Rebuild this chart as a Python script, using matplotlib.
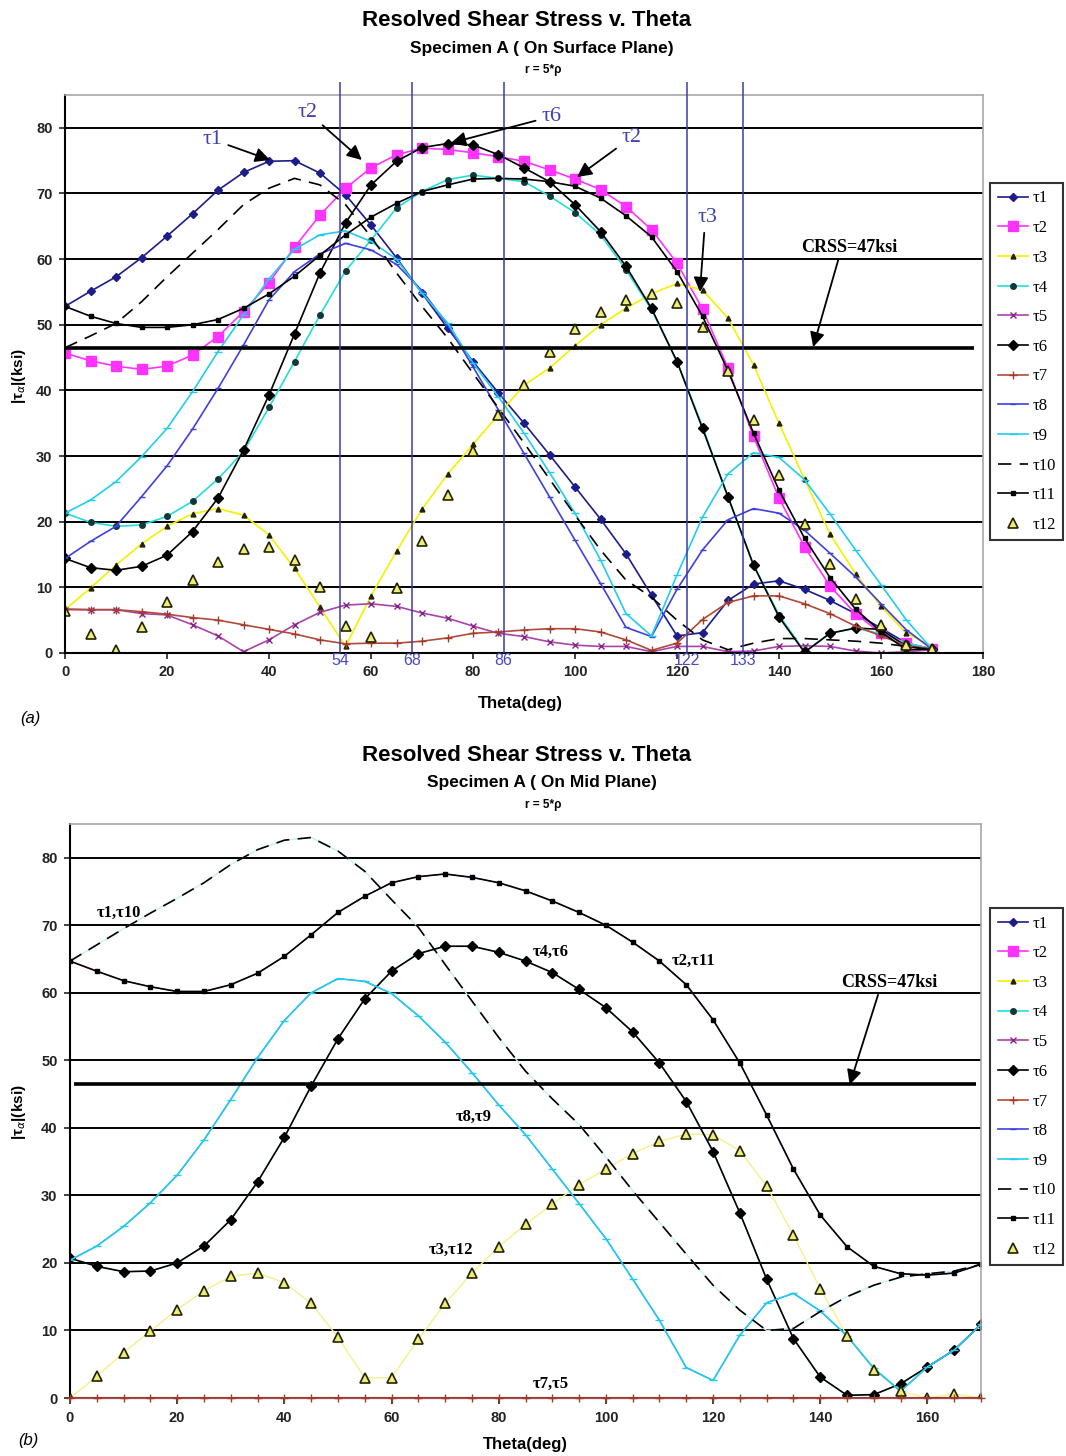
import matplotlib
matplotlib.use("Agg")
import matplotlib.pyplot as plt
from matplotlib.lines import Line2D

# Theta (deg), same categories for both panels
theta = [0, 5, 10, 15, 20, 25, 30, 35, 40, 45, 50, 55, 60, 65, 70, 75, 80, 85,
         90, 95, 100, 105, 110, 115, 120, 125, 130, 135, 140, 145, 150, 155, 160, 165, 170]

# (a) surface plane, |tau| in ksi
tau1_surf = [52.8, 55.1, 57.3, 60.2, 63.5, 66.9, 70.5, 73.2, 74.9, 75.0, 73.1, 69.8, 65.2, 60.2, 54.8, 49.5, 44.4, 39.6,
             35.0, 30.2, 25.3, 20.4, 15.1, 8.8, 2.6, 3.1, 8.0, 10.5, 11.0, 9.7, 8.0, 6.0, 3.8, 1.5, 0.6]
tau2_surf = [45.7, 44.5, 43.7, 43.2, 43.7, 45.4, 48.2, 52.0, 56.4, 61.8, 66.7, 70.8, 73.9, 75.9, 76.9, 76.7, 76.2, 75.6,
             74.9, 73.6, 72.2, 70.6, 68.0, 64.5, 59.4, 52.4, 43.4, 33.0, 23.6, 16.2, 10.2, 6.0, 3.0, 1.5, 0.6]
tau3_surf = [6.6, 9.9, 13.4, 16.6, 19.3, 21.2, 22.0, 21.0, 18.0, 12.9, 7.0, 1.0, 8.7, 15.5, 21.9, 27.2, 31.8, 36.3,
             40.8, 43.4, 46.8, 50.0, 52.5, 54.7, 56.3, 55.3, 51.0, 43.9, 35.0, 26.5, 18.1, 12.1, 7.1, 3.0, 1.0]
tau4_surf = [21.3, 19.9, 19.3, 19.5, 20.8, 23.1, 26.5, 30.7, 37.4, 44.4, 51.5, 58.2, 62.9, 67.8, 70.3, 72.1, 72.8, 72.3,
             71.8, 69.6, 67.1, 63.7, 58.4, 52.3, 44.4, 34.5, 23.7, 13.4, 5.8, 0.2, 3.0, 3.8, 2.9, 1.5, 0.6]
tau5_surf = [6.6, 6.6, 6.6, 6.0, 5.8, 4.3, 2.6, 0.2, 2.0, 4.3, 6.2, 7.3, 7.5, 7.1, 6.1, 5.3, 4.1, 3.0,
             2.5, 1.7, 1.2, 1.0, 1.0, 0.2, 1.0, 1.0, 0.2, 0.3, 1.0, 1.1, 1.0, 0.3, 0.0, 0.2, 0.5]
tau6_surf = [14.4, 13.0, 12.6, 13.2, 14.9, 18.5, 23.6, 30.9, 39.3, 48.6, 57.9, 65.5, 71.3, 74.9, 77.0, 77.6, 77.4, 75.9,
             73.9, 71.8, 68.3, 64.2, 58.9, 52.5, 44.4, 34.2, 23.8, 13.4, 5.5, 0.1, 3.0, 3.8, 3.6, 1.0, 0.6]
tau7_surf = [6.7, 6.6, 6.6, 6.3, 5.9, 5.4, 5.0, 4.3, 3.6, 2.9, 2.0, 1.4, 1.5, 1.5, 1.8, 2.3, 3.0, 3.2,
             3.5, 3.7, 3.7, 3.2, 2.0, 0.4, 1.5, 5.1, 7.7, 8.7, 8.7, 7.5, 6.0, 4.1, 2.6, 1.1, 0.6]
tau8_surf = [14.4, 17.0, 19.3, 23.8, 28.5, 34.1, 40.3, 46.9, 53.8, 58.1, 60.8, 62.4, 61.4, 59.2, 55.2, 50.0, 43.6, 37.0,
             30.4, 23.8, 17.2, 10.6, 3.9, 2.5, 9.7, 15.7, 20.3, 22.0, 21.3, 18.7, 15.2, 11.6, 7.5, 3.5, 0.6]
tau9_surf = [21.3, 23.3, 26.1, 29.9, 34.2, 39.8, 45.9, 51.5, 57.0, 61.5, 63.7, 64.3, 62.7, 60.0, 54.8, 50.3, 44.2, 39.0,
             33.5, 27.5, 21.3, 14.2, 6.0, 2.6, 11.9, 20.7, 27.3, 30.5, 29.8, 26.4, 21.2, 15.7, 10.4, 5.0, 0.6]
tau10_surf = [46.5, 48.3, 50.2, 53.5, 57.3, 60.9, 64.5, 68.3, 70.8, 72.3, 71.3, 68.3, 63.4, 57.9, 52.8, 48.0, 42.6, 37.3,
              32.0, 26.5, 21.0, 15.7, 11.1, 8.5, 5.0, 2.0, 0.5, 1.5, 2.2, 2.2, 2.0, 1.8, 1.5, 1.0, 0.5]
tau11_surf = [52.8, 51.3, 50.2, 49.6, 49.6, 50.0, 50.8, 52.5, 54.7, 57.4, 60.6, 63.7, 66.4, 68.5, 70.3, 71.3, 72.2, 72.3,
              72.2, 71.8, 71.1, 69.3, 66.6, 63.4, 58.1, 51.3, 43.0, 33.5, 24.8, 17.5, 11.5, 6.7, 3.2, 0.5, 0.6]
tau12_surf = [6.4, 2.9, 0.5, 4.0, 7.7, 11.1, 13.9, 15.8, 16.2, 14.1, 10.1, 4.1, 2.4, 9.9, 17.1, 24.1, 30.7, 36.3,
              40.8, 45.8, 49.3, 52.0, 53.8, 54.7, 53.3, 49.6, 43.0, 35.5, 27.1, 19.7, 13.6, 8.2, 4.3, 1.2, 0.6]

# (b) mid plane, pairs of systems coincide
tau1_mid = [64.7, 67.1, 69.5, 71.8, 74.0, 76.3, 79.0, 81.2, 82.6, 83.0, 81.0, 78.0, 73.8, 69.7, 64.2, 58.8, 53.4, 48.4,
            44.3, 40.5, 35.7, 30.7, 26.0, 21.3, 16.7, 13.0, 10.0, 10.3, 12.8, 15.0, 16.7, 17.9, 18.4, 18.8, 19.8]
tau2_mid = [64.7, 63.2, 61.8, 60.9, 60.2, 60.2, 61.2, 62.9, 65.4, 68.6, 71.9, 74.3, 76.3, 77.2, 77.6, 77.1, 76.3, 75.1,
            73.6, 71.9, 70.0, 67.5, 64.7, 61.2, 56.0, 49.6, 41.9, 33.9, 27.1, 22.4, 19.5, 18.4, 18.2, 18.5, 19.8]
tau3_mid = [0.0, 3.2, 6.7, 9.9, 13.1, 15.9, 18.0, 18.5, 17.1, 14.0, 9.0, 3.0, 3.0, 8.7, 14.0, 18.5, 22.4, 25.7,
            28.7, 31.6, 33.9, 36.2, 38.0, 39.1, 39.0, 36.6, 31.4, 24.1, 16.2, 9.2, 4.2, 1.0, 0.0, 0.6, 0.0]
tau4_mid = [20.7, 19.5, 18.7, 18.8, 20.0, 22.5, 26.4, 32.0, 38.6, 46.2, 53.2, 59.1, 63.2, 65.8, 66.9, 66.9, 66.0, 64.7,
            63.0, 60.5, 57.8, 54.2, 49.6, 43.9, 36.5, 27.4, 17.6, 8.8, 3.1, 0.4, 0.5, 2.1, 4.6, 7.1, 10.9]
tau5_mid = [0.0] * 35
tau8_mid = [20.4, 22.5, 25.4, 28.9, 33.0, 38.2, 44.2, 50.4, 55.9, 60.0, 62.1, 61.7, 59.9, 56.6, 52.7, 48.2, 43.4, 39.0,
            33.9, 28.8, 23.6, 17.6, 11.5, 4.5, 2.6, 9.3, 14.1, 15.5, 12.9, 9.2, 4.4, 1.0, 4.6, 7.1, 10.9]
tau6_mid = tau4_mid
tau7_mid = tau5_mid
tau9_mid = tau8_mid
tau10_mid = tau1_mid
tau11_mid = tau2_mid
tau12_mid = tau3_mid

names = ["τ1", "τ2", "τ3", "τ4", "τ5", "τ6", "τ7", "τ8", "τ9", "τ10", "τ11", "τ12"]
surf = [tau1_surf, tau2_surf, tau3_surf, tau4_surf, tau5_surf, tau6_surf,
        tau7_surf, tau8_surf, tau9_surf, tau10_surf, tau11_surf, tau12_surf]
mid = [tau1_mid, tau2_mid, tau3_mid, tau4_mid, tau5_mid, tau6_mid,
       tau7_mid, tau8_mid, tau9_mid, tau10_mid, tau11_mid, tau12_mid]

crss = 46.5
marked_angles = [54, 68, 86, 122, 133]

styles = [
    dict(color="#1c1c8a", marker="D", ms=4, mfc="#1c1c8a", mec="#1c1c8a"),
    dict(color="#ff33ff", marker="s", ms=6.5, mfc="#ff33ff", mec="#ff33ff"),
    dict(color="#f4f000", marker="^", ms=3.5, mfc="#222200", mec="#222200"),
    dict(color="#22dddd", marker="o", ms=4, mfc="#103838", mec="#103838"),
    dict(color="#aa44aa", marker="x", ms=4.5, mec="#882288"),
    dict(color="black", marker="D", ms=5.5, mfc="black", mec="black"),
    dict(color="#b04a3a", marker="+", ms=5.5, mec="#a03a2a"),
    dict(color="#4040dd", marker="_", ms=5, mec="#4040dd"),
    dict(color="#22ccee", marker="_", ms=6, mec="#22ccee"),
    dict(color="black", ls=(0, (8, 5)), marker=None),
    dict(color="black", marker="s", ms=3.3, mfc="black", mec="black"),
    dict(color="#ffff66", ls="none", marker="^", ms=7, mfc="#eeee77", mec="#222200", mew=1.2),
]

# series hidden under their twin on the mid plane are drawn as bare thin lines
mid_override = {0: dict(color="#c8eef6", marker=None, lw=1.0),
                1: dict(marker=None, lw=0.8), 2: dict(color="#f6f08a", lw=1.0),
                3: dict(marker=None, lw=0.8), 4: dict(marker=None, lw=0.8),
                7: dict(marker=None, lw=0.8)}

plt.rcParams["font.family"] = ["Liberation Sans Narrow", "Liberation Sans", "DejaVu Sans"]
serif = ["Liberation Serif", "DejaVu Serif"]

fig = plt.figure(figsize=(10.66, 14.56), dpi=100)
W, H = 1066.0, 1456.0


def fx(px):
    return px / W


def fy(py):
    return 1 - py / H


ax_a = fig.add_axes([fx(65), fy(653), fx(983 - 65), (653 - 95) / H])
ax_b = fig.add_axes([fx(70), fy(1398), fx(981 - 70), (1398 - 824) / H])


def style_axes(ax, xmax, xticks):
    ax.set_xlim(0, xmax)
    ax.set_ylim(0, 85)
    ax.set_xticks(xticks)
    ax.set_yticks(range(0, 81, 10))
    ax.grid(axis="y", color="black", lw=1.4)
    ax.set_axisbelow(True)
    for s in ["top", "right"]:
        ax.spines[s].set_color("#a8a8a8")
        ax.spines[s].set_linewidth(1.2)
    for s in ["left", "bottom"]:
        ax.spines[s].set_color("black")
        ax.spines[s].set_linewidth(1.5)
    ax.tick_params(direction="out", length=4, width=1.2, labelsize=10.5, colors="#222222", pad=5)
    for lab in ax.get_xticklabels() + ax.get_yticklabels():
        lab.set_fontweight("bold")


def make_legend(ax, top_px):
    handles = [Line2D([], [], lw=1.2, **st) for st in styles]
    ax.legend(handles, names, loc="upper left", bbox_to_anchor=(fx(990), fy(top_px)),
              bbox_transform=fig.transFigure, prop=dict(family=serif, size=12),
              frameon=True, fancybox=False, edgecolor="black", handlelength=1.8,
              handletextpad=0.3, labelspacing=0.82, borderpad=0.45, borderaxespad=0)
    ax.get_legend().get_frame().set_linewidth(1.5)


arrow = dict(arrowstyle="-|>", color="black", lw=1.3, mutation_scale=22, shrinkA=2, shrinkB=0)

# ---------- (a) surface plane ----------
for i, vals in enumerate(surf):
    ax_a.plot(theta, vals, lw=1.2, zorder=2 + i * 0.01, **styles[i])
style_axes(ax_a, 180, range(0, 181, 20))
ax_a.hlines(crss, 0, 178.2, color="black", lw=2.6, zorder=5)
ax_a.vlines(marked_angles, 0, 87, colors="#3a3aa8", lw=1.1, clip_on=False, zorder=6)
for a in marked_angles:
    ax_a.text(a, -1.1, str(a), ha="center", va="center", color="#4a4ac0", fontsize=11.5,
              family=["Liberation Sans", "DejaVu Sans"])
blue = "#4040b0"
ax_a.annotate("τ1", xy=(40.2, 75.1), xytext=(29, 78.2), color=blue, fontsize=16, family=serif,
              ha="center", va="center", arrowprops=arrow, zorder=7)
ax_a.annotate("τ2", xy=(58.2, 75.1), xytext=(47.6, 82.4), color=blue, fontsize=16, family=serif,
              ha="center", va="center", arrowprops=arrow, zorder=7)
ax_a.annotate("τ6", xy=(75.7, 77.7), xytext=(95.3, 81.7), color=blue, fontsize=16, family=serif,
              ha="center", va="center", arrowprops=arrow, zorder=7)
ax_a.annotate("τ2", xy=(100.4, 72.5), xytext=(111, 78.5), color=blue, fontsize=16, family=serif,
              ha="center", va="center", arrowprops=arrow, zorder=7)
ax_a.annotate("τ3", xy=(124.5, 55), xytext=(126, 66.3), color=blue, fontsize=16, family=serif,
              ha="center", va="center", arrowprops=dict(arrow, relpos=(0.35, 0)), zorder=7)
ax_a.annotate("CRSS=47ksi", xy=(146.7, 46.6), xytext=(153.7, 61.7), fontsize=13, weight="bold",
              family=serif, ha="center", va="center", arrowprops=dict(arrow, relpos=(0.4, 0)), zorder=7,
              bbox=dict(boxstyle="square,pad=0.05", fc="white", ec="none"))
make_legend(ax_a, 183)

# ---------- (b) mid plane ----------
for i, vals in enumerate(mid):
    st = dict(styles[i])
    lw = 1.2
    if i in mid_override:
        ov = dict(mid_override[i])
        lw = ov.pop("lw")
        st.update(ov)
        if st.get("marker") is None:
            for k in ("ms", "mfc", "mec", "mew"):
                st.pop(k, None)
    # the zero-valued pair sits on the axis line, keep it above the spine
    on_axis = i in (4, 6)
    ax_b.plot(theta, vals, lw=lw, zorder=(4 if on_axis else 2) + i * 0.01, clip_on=not on_axis, **st)
style_axes(ax_b, 170, range(0, 161, 20))
ax_b.hlines(crss, 0.8, 169, color="black", lw=2.6, zorder=5)
lbl = dict(fontsize=12, weight="bold", family=serif, ha="center", va="center", zorder=7)
ax_b.text(9.1, 71.9, "τ1,τ10", **lbl)
ax_b.text(89.7, 66.1, "τ4,τ6", **lbl)
ax_b.text(116.4, 64.7, "τ2,τ11", **lbl)
ax_b.text(75.3, 41.7, "τ8,τ9", **lbl)
ax_b.text(71.1, 21.9, "τ3,τ12", **lbl)
ax_b.text(89.7, 2.1, "τ7,τ5", **lbl)
ax_b.annotate("CRSS=47ksi", xy=(145.5, 46.4), xytext=(152.8, 61.5), fontsize=13, weight="bold",
              family=serif, ha="center", va="center", arrowprops=dict(arrow, relpos=(0.4, 0)), zorder=7,
              bbox=dict(boxstyle="square,pad=0.05", fc="white", ec="none"))
make_legend(ax_b, 908)

# ---------- titles and axis labels ----------
for top, sub in [(0, "Specimen A ( On Surface Plane)"), (735, "Specimen A ( On Mid Plane)")]:
    fig.text(fx(527), fy(top + 20), "Resolved Shear Stress v. Theta", ha="center", va="center",
             fontsize=16, weight="bold")
    fig.text(fx(542), fy(top + 48), sub, ha="center", va="center", fontsize=12.5, weight="bold")
    fig.text(fx(543), fy(top + 70), "r = 5*ρ", ha="center", va="center", fontsize=8.5, weight="bold")

fig.text(fx(520), fy(703), "Theta(deg)", ha="center", va="center", fontsize=12, weight="bold")
fig.text(fx(525), fy(1445), "Theta(deg)", ha="center", va="center", fontsize=12, weight="bold")
fig.text(fx(19), fy(376), "|τ$_{\\alpha}$|(ksi)", rotation=90, ha="center", va="center",
         fontsize=11, weight="bold")
fig.text(fx(19), fy(1112), "|τ$_{\\alpha}$|(ksi)", rotation=90, ha="center", va="center",
         fontsize=11, weight="bold")
fig.text(fx(30), fy(718), "(a)", ha="center", va="center", fontsize=12, style="italic",
         family=["Liberation Sans", "DejaVu Sans"])
fig.text(fx(28), fy(1441), "(b)", ha="center", va="center", fontsize=12, style="italic",
         family=["Liberation Sans", "DejaVu Sans"])

fig.savefig("out.png", dpi=100, facecolor="white")
